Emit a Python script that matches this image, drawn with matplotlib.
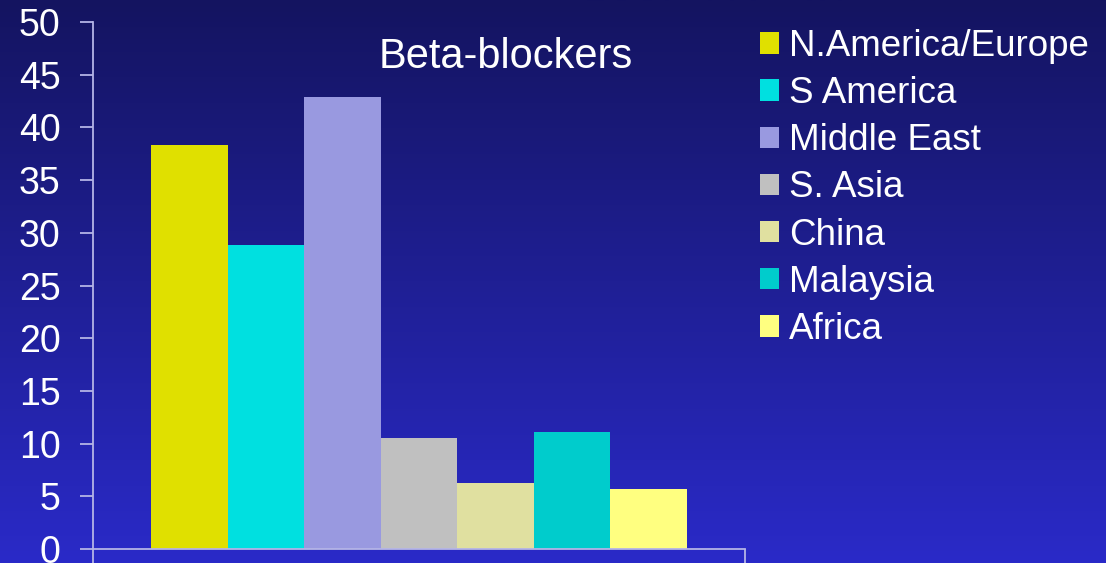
import numpy as np
import matplotlib
matplotlib.use("Agg")
import matplotlib.pyplot as plt
from matplotlib.colors import LinearSegmentedColormap

regions = ["N.America/Europe", "S America", "Middle East", "S. Asia", "China", "Malaysia", "Africa"]
values = [38.3, 28.8, 42.9, 10.5, 6.3, 11.1, 5.7]
colors = ["#E0E000", "#00E0E0", "#9999E0", "#C0C0C0", "#E0E0A0", "#00CCCC", "#FFFF80"]
yticks = [0, 5, 10, 15, 20, 25, 30, 35, 40, 45, 50]
title = "Beta-blockers"

plt.rcParams['font.family'] = ['Liberation Sans', 'DejaVu Sans']

fig = plt.figure(figsize=(11.06, 5.63), dpi=100)

# gradient background
bg = fig.add_axes([0, 0, 1, 1], zorder=-10)
grad = np.linspace(0, 1, 256).reshape(-1, 1)
cmap = LinearSegmentedColormap.from_list("bg", ["#141460", "#2A2AC8"])
bg.imshow(grad, aspect="auto", cmap=cmap, extent=[0, 1, 0, 1], origin="upper")
bg.axis("off")

ax = fig.add_axes([93/1106, 14/563, (745-93)/1106, (549-22)/563])
ax.patch.set_alpha(0)

x = np.arange(len(values))
bars = ax.bar(x, values, width=1.0, color=colors, edgecolor="none")

ax.set_xlim(-1.256, 7.256)
ax.set_ylim(0, 50)
ax.set_yticks(yticks)
ax.set_xticks([-1.256, 7.256])
ax.set_xticklabels([])

axis_col = "#B4B4E6"
for s in ["top", "right"]:
    ax.spines[s].set_visible(False)
for s in ["left", "bottom"]:
    ax.spines[s].set_color(axis_col)
    ax.spines[s].set_linewidth(1.3)
ax.tick_params(axis="y", colors=axis_col, labelcolor="white", labelsize=27, length=9.4, width=1.3, pad=14, direction="out")
ax.tick_params(axis="x", colors=axis_col, length=10, width=1.3, direction="out")

fig.text(506/1106, 1 - 57/563, title, color="white", fontsize=30, ha="center", va="center")

leg = fig.legend(handles=list(bars), labels=regions, loc="upper left",
                 bbox_to_anchor=(760/1106, 1 - 29/563), frameon=False,
                 fontsize=26.5, labelcolor="white", handlelength=0.52, handleheight=0.52,
                 handletextpad=0.27, labelspacing=0.33, borderpad=0, borderaxespad=0)

fig.savefig("out.png", dpi=100)
